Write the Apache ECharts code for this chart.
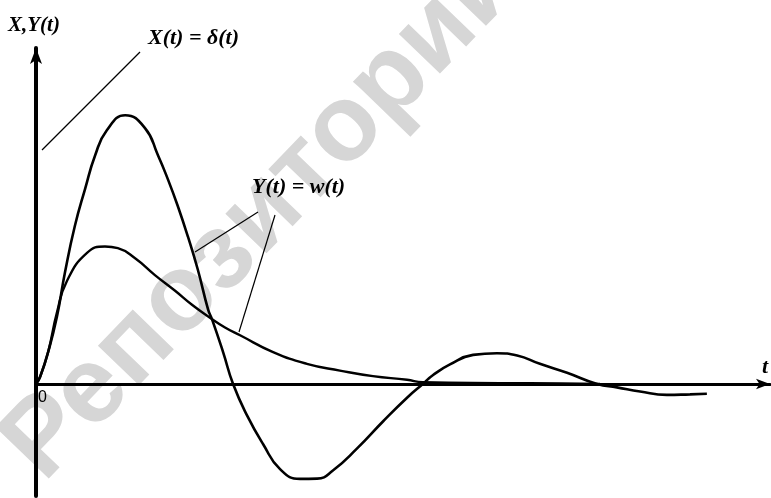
<!DOCTYPE html>
<html>
<head>
<meta charset="utf-8">
<script src="https://cdn.jsdelivr.net/npm/echarts@6/dist/echarts.min.js"></script>
<style>
html,body{margin:0;padding:0;background:#fff;}
#chart{width:771px;height:498px;}
</style>
</head>
<body>
<div id="chart"></div>
<script>
// Oscillating response curve (t, value)
const tOsc = [0, 0.11, 0.33, 0.57, 0.79, 1.06, 1.34, 1.61, 1.93, 2.43, 2.97, 3.32, 3.60, 3.87, 4.14, 4.41, 4.69, 4.80, 5.10, 5.37, 5.75, 6.19, 6.65, 7.19, 7.66, 8.09, 8.75, 9.46, 10.11, 10.54, 10.82, 11.28, 11.91, 12.56, 13.11, 13.73, 14.47, 15.29, 15.83, 16.46, 17.19, 17.82, 18.28];
const yOsc = [0, 0.25, 1.14, 2.40, 3.99, 5.65, 6.98, 8.16, 9.06, 9.60, 9.14, 8.18, 7.29, 6.33, 5.26, 4.08, 2.66, 2.30, 1.13, 0, -1.12, -2.15, -3.04, -3.39, -3.38, -3.09, -2.30, -1.33, -0.49, 0, 0.32, 0.70, 1.04, 1.10, 1.02, 0.72, 0.40, 0, -0.12, -0.27, -0.39, -0.37, -0.35];
// Smooth (aperiodic) response curve
const tSm = [0, 0.11, 0.33, 0.57, 0.84, 1.39, 1.88, 2.23, 2.70, 3.24, 3.79, 4.25, 4.74, 5.15, 5.56, 6.46, 7.38, 8.28, 9.18, 10.11, 10.54, 12.64, 14.28, 15.37];
const ySm = [0, 0.25, 1.14, 2.55, 3.67, 4.68, 4.91, 4.85, 4.49, 3.89, 3.33, 2.83, 2.37, 2.02, 1.74, 1.14, 0.72, 0.48, 0.28, 0.15, 0.06, 0.03, 0.02, 0];

const yTitle = 'X,Y(t)';
const xTitle = 't';
const labelX = 'X(t) = δ(t)';
const labelY = 'Y(t) = w(t)';
const originLabel = '0';
const watermark = 'Репозиторий';

const pairs = (ts, ys) => ts.map((t, i) => [t, ys[i]]);

const chart = echarts.init(document.getElementById('chart'), null, {renderer: 'canvas'});
const serifBI = {fontFamily: 'Liberation Serif', fontStyle: 'italic', fontWeight: 'bold', fill: '#000'};

chart.setOption({
  animation: false,
  backgroundColor: '#fff',
  grid: {left: 36, right: 1, top: 48, bottom: 2, containLabel: false},
  xAxis: {
    type: 'value', min: 0, max: 20,
    axisLine: {show: true, onZero: true, symbol: ['none', 'arrow'], symbolSize: [8, 14], lineStyle: {color: '#000', width: 3}},
    axisTick: {show: false}, axisLabel: {show: false}, splitLine: {show: false}
  },
  yAxis: {
    type: 'value', min: -4, max: 12,
    axisLine: {show: true, onZero: true, symbol: ['none', 'arrow'], symbolSize: [9, 16], lineStyle: {color: '#000', width: 4}},
    axisTick: {show: false}, axisLabel: {show: false}, splitLine: {show: false}
  },
  graphic: [
    {type: 'text', z: -10, x: 264, y: 213, rotation: 46 * Math.PI / 180,
      style: {text: watermark, font: 'bold 108px "Liberation Sans"', fill: '#d6d6d6', align: 'center', verticalAlign: 'middle'}},
    {type: 'text', left: 8, top: 15, style: Object.assign({text: yTitle, fontSize: 21}, serifBI)},
    {type: 'text', left: 148, top: 27, style: Object.assign({text: labelX, fontSize: 22}, serifBI)},
    {type: 'text', left: 252, top: 176, style: Object.assign({text: labelY, fontSize: 22}, serifBI)},
    {type: 'text', left: 762, top: 356, style: Object.assign({text: xTitle, fontSize: 22}, serifBI)},
    {type: 'text', left: 38, top: 390, style: {text: originLabel, fontFamily: 'Liberation Sans', fontSize: 16, fill: '#000'}},
    {type: 'line', shape: {x1: 140, y1: 52, x2: 42, y2: 150}, style: {stroke: '#000', lineWidth: 1.2}},
    {type: 'line', shape: {x1: 258, y1: 212, x2: 195, y2: 252}, style: {stroke: '#000', lineWidth: 1.2}},
    {type: 'line', shape: {x1: 275, y1: 215, x2: 239, y2: 332}, style: {stroke: '#000', lineWidth: 1.2}}
  ],
  series: [
    {type: 'line', data: pairs(tOsc, yOsc), smooth: 0.5, showSymbol: false, lineStyle: {color: '#000', width: 2.6}, z: 3},
    {type: 'line', data: pairs(tSm, ySm), smooth: 0.5, showSymbol: false, lineStyle: {color: '#000', width: 2.4}, z: 3}
  ]
});
</script>
</body>
</html>
